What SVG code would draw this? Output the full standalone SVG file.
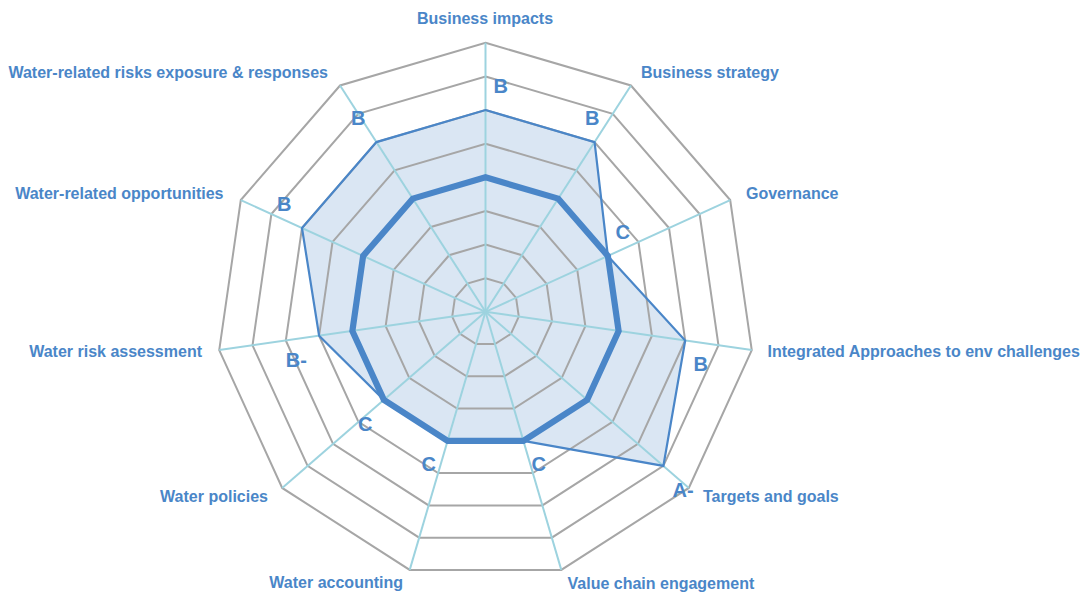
<svg xmlns="http://www.w3.org/2000/svg" width="1090" height="597" viewBox="0 0 1090 597">
<style>
.ring{fill:none;stroke:#a6a6a6;stroke-width:2;stroke-linejoin:miter}
.spoke{stroke:#9dd3df;stroke-width:2}
.area{fill:#dae6f3;stroke:none}
.dline{fill:none;stroke:#4a86c8;stroke-width:2.2;stroke-linejoin:miter}
.thick{fill:none;stroke:#4a86c8;stroke-width:6.2;stroke-linejoin:miter}
.lbl{font-family:"Liberation Sans",Arial,sans-serif;font-weight:bold;font-size:16px;fill:#4a86c8}
.grade{font-family:"Liberation Sans",Arial,sans-serif;font-weight:bold;font-size:20px;fill:#4a86c8}
</style>
<rect width="1090" height="597" fill="#ffffff"/>
<g id="chart" transform="translate(485.5,311.8)">
<polygon class="area" points="0,-201.75 109.07,-169.72 122.35,-55.87 199.70,28.71 177.88,154.14 37.89,129.05 -37.89,129.05 -101.65,88.08 -166.41,23.93 -183.52,-83.81 -109.07,-169.72"/>
<g id="grid">
<polygon class="ring" points="0,-33.63 18.18,-28.29 30.59,-13.97 33.28,4.79 25.41,22.02 9.47,32.26 -9.47,32.26 -25.41,22.02 -33.28,4.79 -30.59,-13.97 -18.18,-28.29"/>
<polygon class="ring" points="0,-67.25 36.36,-56.57 61.17,-27.94 66.57,9.57 50.82,44.04 18.95,64.53 -18.95,64.53 -50.82,44.04 -66.57,9.57 -61.17,-27.94 -36.36,-56.57"/>
<polygon class="ring" points="0,-100.88 54.54,-84.86 91.76,-41.91 99.85,14.36 76.24,66.06 28.42,96.79 -28.42,96.79 -76.24,66.06 -99.85,14.36 -91.76,-41.91 -54.54,-84.86"/>
<polygon class="ring" points="0,-134.5 72.72,-113.15 122.35,-55.87 133.13,19.14 101.65,88.08 37.89,129.05 -37.89,129.05 -101.65,88.08 -133.13,19.14 -122.35,-55.87 -72.72,-113.15"/>
<polygon class="ring" points="0,-168.13 90.90,-141.44 152.93,-69.84 166.41,23.93 127.06,110.10 47.37,161.31 -47.37,161.31 -127.06,110.10 -166.41,23.93 -152.93,-69.84 -90.90,-141.44"/>
<polygon class="ring" points="0,-201.75 109.07,-169.72 183.52,-83.81 199.70,28.71 152.47,132.12 56.84,193.58 -56.84,193.58 -152.47,132.12 -199.70,28.71 -183.52,-83.81 -109.07,-169.72"/>
<polygon class="ring" points="0,-235.38 127.25,-198.01 214.10,-97.78 232.98,33.50 177.88,154.14 66.31,225.84 -66.31,225.84 -177.88,154.14 -232.98,33.50 -214.10,-97.78 -127.25,-198.01"/>
<polygon class="ring" points="0,-269 145.43,-226.30 244.69,-111.75 266.26,38.28 203.30,176.16 75.79,258.10 -75.79,258.10 -203.30,176.16 -266.26,38.28 -244.69,-111.75 -145.43,-226.30"/>
</g>
<g id="connectors">
<line class="spoke" x1="0" y1="0" x2="0" y2="-269"/>
<line class="spoke" x1="0" y1="0" x2="145.43" y2="-226.30"/>
<line class="spoke" x1="0" y1="0" x2="244.69" y2="-111.75"/>
<line class="spoke" x1="0" y1="0" x2="266.26" y2="38.28"/>
<line class="spoke" x1="0" y1="0" x2="203.30" y2="176.16"/>
<line class="spoke" x1="0" y1="0" x2="75.79" y2="258.10"/>
<line class="spoke" x1="0" y1="0" x2="-75.79" y2="258.10"/>
<line class="spoke" x1="0" y1="0" x2="-203.30" y2="176.16"/>
<line class="spoke" x1="0" y1="0" x2="-266.26" y2="38.28"/>
<line class="spoke" x1="0" y1="0" x2="-244.69" y2="-111.75"/>
<line class="spoke" x1="0" y1="0" x2="-145.43" y2="-226.30"/>
</g>
<polygon id="series-score" class="dline" points="0,-201.75 109.07,-169.72 122.35,-55.87 199.70,28.71 177.88,154.14 37.89,129.05 -37.89,129.05 -101.65,88.08 -166.41,23.93 -183.52,-83.81 -109.07,-169.72"/>
<polygon id="series-avg" class="thick" points="0,-134.5 72.72,-113.15 122.35,-55.87 133.13,19.14 101.65,88.08 37.89,129.05 -37.89,129.05 -101.65,88.08 -133.13,19.14 -122.35,-55.87 -72.72,-113.15"/>
</g>
<g id="axis-business-impacts"><text class="lbl" x="485" y="24" text-anchor="middle">Business impacts</text><text class="grade" x="493.5" y="93">B</text></g>
<g id="axis-business-strategy"><text class="lbl" x="641" y="78">Business strategy</text><text class="grade" x="585" y="124.5">B</text></g>
<g id="axis-governance"><text class="lbl" x="746" y="199">Governance</text><text class="grade" x="615.5" y="238.5">C</text></g>
<g id="axis-integrated"><text class="lbl" x="767.5" y="357">Integrated Approaches to env challenges</text><text class="grade" x="693.5" y="370.5">B</text></g>
<g id="axis-targets"><text class="lbl" x="703" y="501.5">Targets and goals</text><text class="grade" x="672.5" y="496.5">A-</text></g>
<g id="axis-value-chain"><text class="lbl" x="567.5" y="588.5">Value chain engagement</text><text class="grade" x="531.5" y="470.5">C</text></g>
<g id="axis-water-accounting"><text class="lbl" x="403" y="588" text-anchor="end">Water accounting</text><text class="grade" x="421.5" y="470.5">C</text></g>
<g id="axis-water-policies"><text class="lbl" x="268" y="502" text-anchor="end">Water policies</text><text class="grade" x="358" y="430.5">C</text></g>
<g id="axis-water-risk"><text class="lbl" x="202" y="357" text-anchor="end">Water risk assessment</text><text class="grade" x="285.8" y="366.7">B-</text></g>
<g id="axis-water-opps"><text class="lbl" x="223.5" y="199" text-anchor="end">Water-related opportunities</text><text class="grade" x="277" y="210.7">B</text></g>
<g id="axis-water-risks-exposure"><text class="lbl" x="328" y="78" text-anchor="end">Water-related risks exposure &amp; responses</text><text class="grade" x="351" y="125">B</text></g>
</svg>
